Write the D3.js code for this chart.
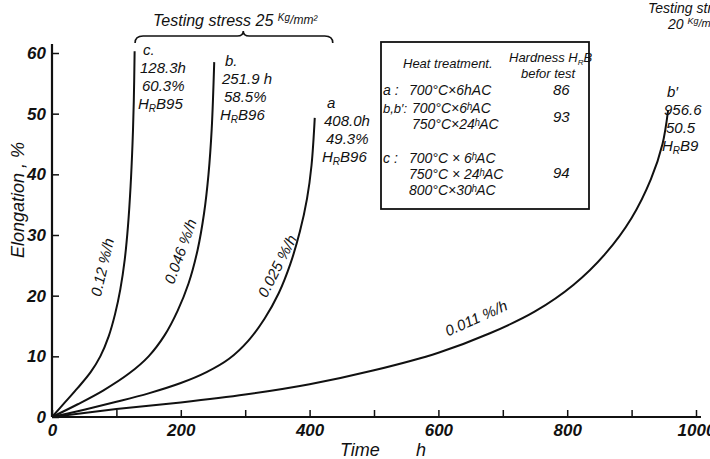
<!DOCTYPE html>
<html>
<head>
<meta charset="utf-8">
<script src="https://cdn.jsdelivr.net/npm/d3@7"></script>
<style>
  body { margin: 0; background: #fff; }
  svg text { font-family: "Liberation Sans", Arial, sans-serif; font-style: italic; fill: #111; }
</style>
</head>
<body>
<svg id="chart" width="710" height="459"></svg>
<script>
// creep curves, time (h) vs elongation (%)
const curveC = [[0,0],[20,2.4],[40,4.8],[60,7.4],[75,10],[88,13.3],[98,17],[106,21],[113,26],[118,31.5],[122,38],[125,45],[127,52],[128.3,60.3]];
const curveB = [[0,0],[40,2.1],[80,4.4],[120,7.2],[150,10],[175,13.5],[195,17.5],[212,22],[226,27.5],[236,33.5],[243,40],[248,47.5],[251.9,58.5]];
const curveA = [[0,0],[50,1.2],[100,2.5],[150,3.9],[200,5.6],[240,7.4],[275,9.6],[305,12.6],[330,16.2],[352,20.4],[370,25.2],[385,30.6],[396,36],[403,41.5],[408,49.3]];
const curveB2 = [[0,0],[100,1.3],[200,2.4],[300,3.7],[400,5.4],[500,7.7],[600,10.6],[680,13.8],[750,17.4],[810,21.8],[860,27],[900,32.8],[930,39.2],[948,45],[956.6,50.5]];
const curves = [curveC, curveB, curveA, curveB2];

const xTicks = [0,100,200,300,400,500,600,700,800,900,1000];
const yTicks = [0,10,20,30,40,50,60];

// end-of-test labels: name, hours, elongation, hardness
const endLabels = [
  { name: "c.", hours: "128.3h", elong: "60.3%", hrb: "95" },
  { name: "b.", hours: "251.9 h", elong: "58.5%", hrb: "96" },
  { name: "a", hours: "408.0h", elong: "49.3%", hrb: "96" },
  { name: "b\u2032", hours: "956.6", elong: "50.5", hrb: "9" }
];
// creep rate labels with anchor point (h, %) and angle
const rateLabels = [
  { text: "0.12 %/h", h: 86, e: 24.5, angle: -77 },
  { text: "0.046 %/h", h: 207, e: 27, angle: -70 },
  { text: "0.025 %/h", h: 357, e: 24.5, angle: -63 },
  { text: "0.011 %/h", h: 662, e: 15.5, angle: -24 }
];

const svg = d3.select("#chart");
const x = d3.scaleLinear().domain([0, 1000]).range([52, 696]);
const y = d3.scaleLinear().domain([0, 60]).range([417, 53]);

// axes
const xAxis = svg.append("g")
  .attr("transform", `translate(0,${y(0)})`)
  .call(d3.axisBottom(x).tickValues(xTicks).tickSize(-7).tickPadding(7)
    .tickFormat(d => d % 200 === 0 ? d : ""));
xAxis.select(".domain").remove();
xAxis.selectAll(".tick line").attr("stroke", "#111").attr("stroke-width", 1.5);
xAxis.selectAll("text").attr("font-size", 17).attr("font-weight", "bold");

const yAxis = svg.append("g")
  .attr("transform", `translate(${x(0)},0)`)
  .call(d3.axisLeft(y).tickValues(yTicks).tickSize(-7).tickPadding(6));
yAxis.select(".domain").remove();
yAxis.selectAll(".tick line").attr("stroke", "#111").attr("stroke-width", 1.5);
yAxis.selectAll("text").attr("font-size", 17).attr("font-weight", "bold");

svg.append("line").attr("x1", x(0)).attr("x2", 701).attr("y1", y(0)).attr("y2", y(0))
  .attr("stroke", "#111").attr("stroke-width", 2.2);
svg.append("line").attr("x1", x(0)).attr("x2", x(0)).attr("y1", y(0)).attr("y2", 44)
  .attr("stroke", "#111").attr("stroke-width", 2.2);

// axis titles
svg.append("text").attr("transform", "translate(24,200) rotate(-90)")
  .attr("text-anchor", "middle").attr("font-size", 18).text("Elongation ,  %");
svg.append("text").attr("x", 340).attr("y", 456).attr("font-size", 18)
  .text("Time");
svg.append("text").attr("x", 416).attr("y", 456).attr("font-size", 18)
  .text("h");

// curves
const line = d3.line().x(d => x(d[0])).y(d => y(d[1])).curve(d3.curveCatmullRom.alpha(0.5));
svg.selectAll(".creep").data(curves).enter().append("path")
  .attr("class", "creep")
  .attr("d", line)
  .attr("fill", "none").attr("stroke", "#111").attr("stroke-width", 2);

// end labels placed next to each curve end
const endPos = [[138, 55], [220, 66], [322, 108], [662, 97]];
endLabels.forEach((d, i) => {
  const [lx, ly] = endPos[i];
  const t = svg.append("text").attr("font-size", 15);
  t.append("tspan").attr("x", lx + 5).attr("y", ly).text(d.name);
  t.append("tspan").attr("x", lx + 2).attr("y", ly + 18).text(d.hours);
  t.append("tspan").attr("x", lx + 4).attr("y", ly + 36).text(d.elong);
  const h = svg.append("text").attr("font-size", 15).attr("x", lx).attr("y", ly + 54);
  h.append("tspan").text("H");
  h.append("tspan").attr("font-size", 10).attr("dy", 3).text("R");
  h.append("tspan").attr("dy", -3).text("B" + d.hrb);
});

// rate labels
rateLabels.forEach(d => {
  svg.append("text")
    .attr("transform", `translate(${x(d.h)},${y(d.e)}) rotate(${d.angle})`)
    .attr("text-anchor", "middle").attr("font-size", 15)
    .text(d.text);
});

// stress annotations
const s25 = svg.append("text").attr("x", 153).attr("y", 26).attr("font-size", 16);
s25.append("tspan").text("Testing  stress 25 ");
s25.append("tspan").attr("font-size", 10).attr("dy", -5).text("Kg");
s25.append("tspan").attr("font-size", 12).attr("dy", 3).text("/mm²");

const bx0 = x(129), bx1 = x(436), bm = x(297), by = 36;
svg.append("path")
  .attr("d", `M${bx0},${by + 7} Q${bx0},${by} ${bx0 + 8},${by} L${bm - 6},${by} Q${bm},${by} ${bm},${by - 5} Q${bm},${by} ${bm + 6},${by} L${bx1 - 8},${by} Q${bx1},${by} ${bx1},${by + 7}`)
  .attr("fill", "none").attr("stroke", "#111").attr("stroke-width", 1.6);

svg.append("text").attr("x", 648).attr("y", 13).attr("font-size", 14).text("Testing  stress");
const s20 = svg.append("text").attr("x", 668).attr("y", 29).attr("font-size", 14);
s20.append("tspan").text("20 ");
s20.append("tspan").attr("font-size", 9).attr("dy", -5).text("Kg");
s20.append("tspan").attr("font-size", 11).attr("dy", 3).text("/mm²");

// heat treatment table
svg.append("rect").attr("x", 381).attr("y", 42).attr("width", 208).attr("height", 167)
  .attr("fill", "#fff").attr("stroke", "#111").attr("stroke-width", 1.8);

const tableRows = [
  { key: "a :", lines: ["700°C×6hAC"], hard: "86" },
  { key: "b,b\u2032:", lines: ["700°C×6ʰAC", "750°C×24ʰAC"], hard: "93" },
  { key: "c :", lines: ["700°C × 6ʰAC", "750°C × 24ʰAC", "800°C×30ʰAC"], hard: "94" }
];
const rowY = [95, 113, 163];
const hardY = [95, 122, 178];

svg.append("text").attr("x", 403).attr("y", 68).attr("font-size", 13).text("Heat  treatment.");
const hh = svg.append("text").attr("x", 509).attr("y", 62).attr("font-size", 13);
hh.append("tspan").text("Hardness H");
hh.append("tspan").attr("font-size", 8).attr("dy", 3).text("R");
hh.append("tspan").attr("dy", -3).text("B");
svg.append("text").attr("x", 521).attr("y", 78).attr("font-size", 13).text("befor  test");

tableRows.forEach((r, i) => {
  svg.append("text").attr("x", 383).attr("y", rowY[i]).attr("font-size", i === 1 ? 13 : 14).text(r.key);
  r.lines.forEach((l, j) => {
    svg.append("text").attr("x", i === 1 ? 412 : 409).attr("y", rowY[i] + j * 16).attr("font-size", 14)
      .text(l);
  });
  svg.append("text").attr("x", 553).attr("y", hardY[i]).attr("font-size", 15).text(r.hard);
});
</script>
</body>
</html>
